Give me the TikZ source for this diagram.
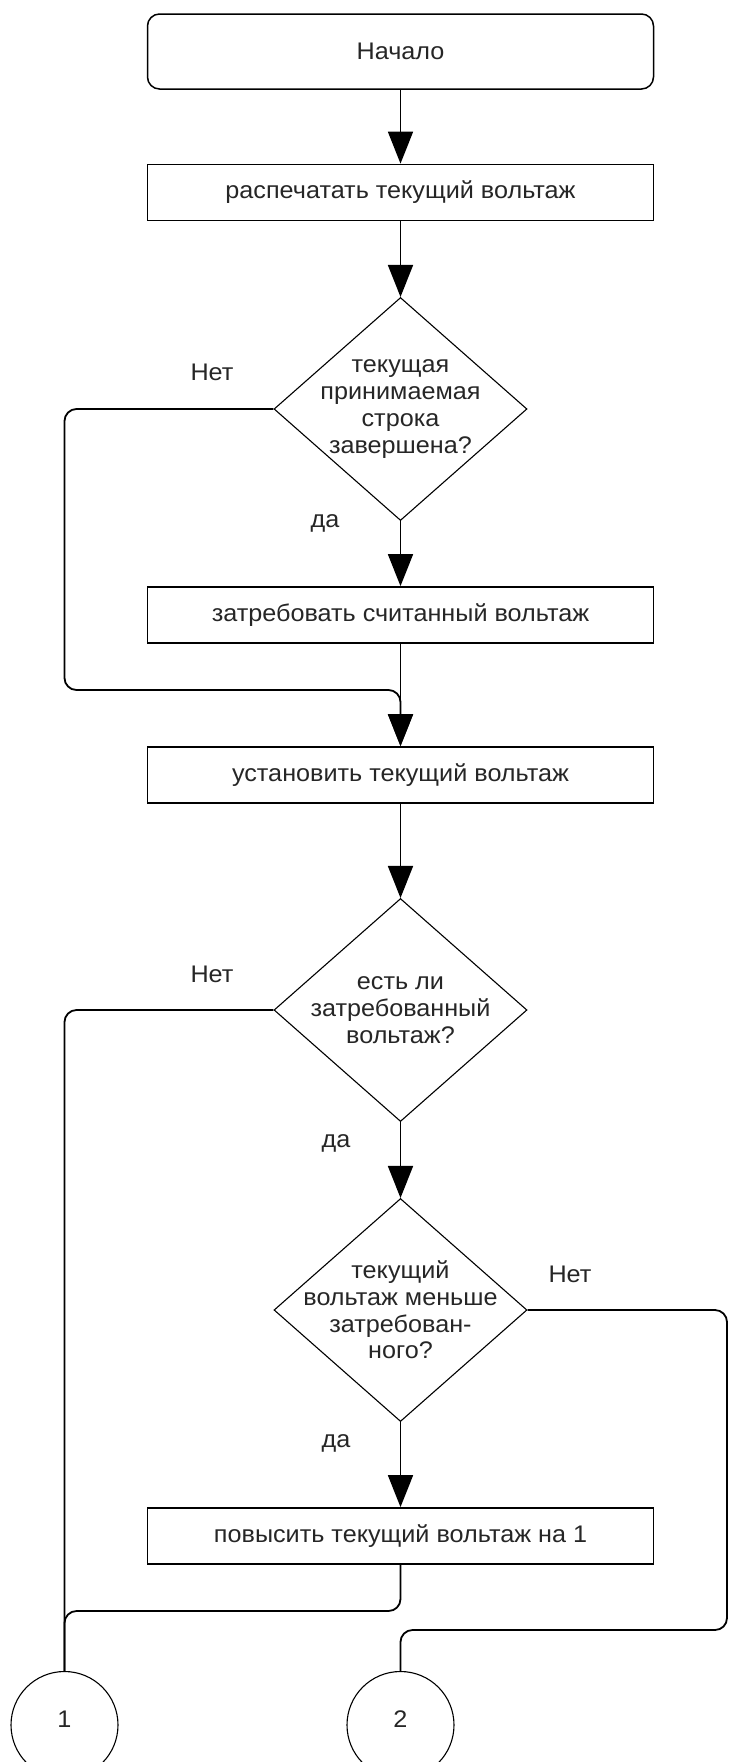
\documentclass[tikz,border=0pt]{standalone}
\usepackage{fontspec}
\setmainfont{Liberation Sans}[FakeStretch=1.05]
\usetikzlibrary{arrows.meta,shapes.geometric}
\begin{document}
\begin{tikzpicture}[x=1pt,y=-1pt,
  txt/.style={font=\fontsize{24}{26.7}\selectfont, text=black!85, align=center, inner sep=0pt},
  procbox/.style={draw=black, line width=1.8pt, minimum width=506pt, minimum height=56pt, inner sep=0pt, txt},
  startbox/.style={procbox, line width=1.5pt, minimum height=75pt, rounded corners=12pt},
  decision/.style={shape=diamond, draw=black, line width=1.1pt, minimum width=253pt, minimum height=223pt, inner sep=0pt},
  conncirc/.style={shape=circle, draw=black, line width=1.1pt, minimum size=107pt, inner sep=0pt},
  conn/.style={draw=black, line width=1.8pt},
  arr/.style={conn, -{Triangle[length=32pt,width=25pt]}}
]
\path[use as bounding box, clip] (0,0) rectangle (729,1762);

\node[startbox] (n0) at (400.5,51.5) {Начало};
\node[procbox] (n1) at (400.5,192.5) {распечатать текущий вольтаж};
\node[decision] (d1) at (400.5,409) {};
\node[txt] (d1t) at (d1.center) {текущая\\принимаемая\\строка\\завершена?};
\node[procbox] (n2) at (400.5,615) {затребовать считанный вольтаж};
\node[procbox] (n3) at (400.5,775) {установить текущий вольтаж};
\node[decision] (d2) at (400.5,1010) {};
\node[txt] (d2t) at (d2.center) {есть ли\\затребованный\\вольтаж?};
\node[decision] (d3) at (400.5,1310) {};
\node[txt] (d3t) at (d3.center) {текущий\\вольтаж меньше\\затребован-\\ного?};
\node[procbox] (n4) at (400.5,1536) {повысить текущий вольтаж на 1};
\node[conncirc] (c1) at (64.5,1725) {};
\node[txt] (c1t) at (64.5,1719) {1};
\node[conncirc] (c2) at (400.5,1725) {};
\node[txt] (c2t) at (400.5,1719) {2};

\node[txt] (l1) at (212,372) {Нет};
\node[txt] (l2) at (325,523) {да};
\node[txt] (l3) at (212,974) {Нет};
\node[txt] (l4) at (336,1143) {да};
\node[txt] (l5) at (570,1274) {Нет};
\node[txt] (l6) at (336,1443.5) {да};

\draw[arr] (n0.south) -- (n1.north);
\draw[arr] (n1.south) -- (d1.north);
\draw[arr] (d1.south) -- (n2.north);
\draw[arr] (n2.south) -- (n3.north);
\draw[arr, rounded corners=12pt] (d1.west) -- (64.5,409) -- (64.5,690) -- (400.5,690) -- (n3.north);
\draw[arr] (n3.south) -- (d2.north);
\draw[arr] (d2.south) -- (d3.north);
\draw[arr] (d3.south) -- (n4.north);
\draw[conn, rounded corners=12pt] (d2.west) -- (64.5,1010) -- (c1.north);
\draw[conn, rounded corners=12pt] (n4.south) -- (400.5,1611) -- (64.5,1611) -- (c1.north);
\draw[conn, rounded corners=12pt] (d3.east) -- (727,1310) -- (727,1630) -- (400.5,1630) -- (c2.north);
\end{tikzpicture}
\end{document}
